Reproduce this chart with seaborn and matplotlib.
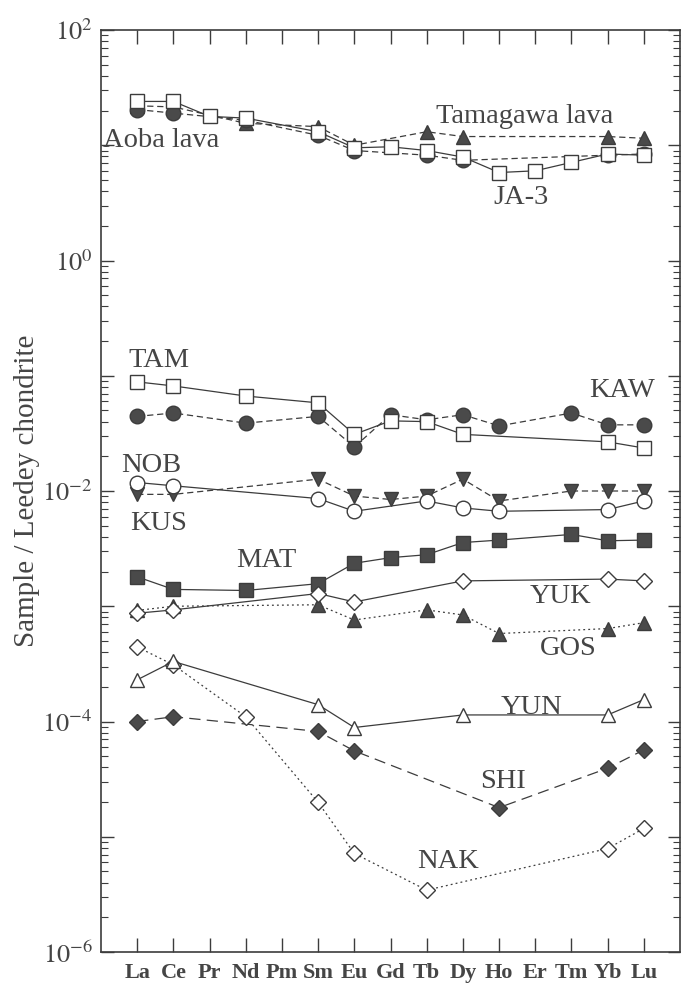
import numpy as np
import pandas as pd
import matplotlib
matplotlib.use("Agg")
import matplotlib.pyplot as plt
import matplotlib.ticker as mticker
import seaborn as sns

sns.set_style("ticks")
plt.rcParams["font.family"] = ["Liberation Serif", "DejaVu Serif"]
plt.rcParams["mathtext.fontset"] = "stix"

nan = np.nan
elements = ["La", "Ce", "Pr", "Nd", "Pm", "Sm", "Eu", "Gd", "Tb", "Dy", "Ho", "Er", "Tm", "Yb", "Lu"]

# chondrite-normalised values, one list per sample (nan = not measured)
tamagawa = [22.0, 21.5, nan, 15.5, nan, 14.5, 10.0, nan, 13.1, 11.9, nan, nan, nan, 11.9, 11.5]
aoba = [20.4, 19.0, nan, 16.5, nan, 12.2, 9.0, nan, 8.2, 7.4, nan, nan, nan, 8.2, 8.4]
ja3 = [24.0, 24.0, 17.8, 17.2, nan, 13.1, 9.5, 9.7, 9.0, 7.9, 5.8, 6.0, 7.1, 8.4, 8.2]
kaw = [0.0444, 0.0475, nan, 0.0388, nan, 0.0444, 0.0241, 0.0459, 0.0415, 0.0459, 0.0367, nan, 0.0475, 0.0375, 0.0375]
tam = [0.0885, 0.0816, nan, 0.0667, nan, 0.0582, 0.031, 0.0406, 0.040, 0.031, nan, nan, nan, 0.0267, 0.0236]
kus = [0.00935, 0.00935, nan, nan, nan, 0.01267, 0.00904, 0.00844, 0.00904, 0.01267, 0.0082, nan, 0.010, 0.010, 0.010]
nob = [0.01185, 0.0111, nan, nan, nan, 0.0086, 0.00667, nan, 0.0082, 0.00713, 0.00667, nan, nan, 0.0069, 0.0082]
mat = [0.0018, 0.0014, nan, 0.00137, nan, 0.00157, 0.00236, 0.00264, 0.0028, 0.00357, 0.00375, nan, 0.0042, 0.0037, 0.00375]
gos = [0.00092, 0.0010, nan, nan, nan, 0.00103, 0.00076, nan, 0.00093, 0.00084, 0.00058, nan, nan, 0.00064, 0.00072]
yuk = [0.00087, 0.00093, nan, nan, nan, 0.00129, 0.00109, nan, nan, 0.00166, nan, nan, nan, 0.00172, 0.00166]
shi = [1.0e-4, 1.1e-4, nan, nan, nan, 8.2e-5, 5.56e-5, nan, nan, nan, 1.79e-5, nan, nan, 3.93e-5, 5.67e-5]
nak = [4.44e-4, 3.1e-4, nan, 1.1e-4, nan, 1.99e-5, 7.16e-6, nan, 3.44e-6, nan, nan, nan, nan, 7.9e-6, 1.18e-5]
yun = [2.3e-4, 3.32e-4, nan, nan, nan, 1.4e-4, 8.87e-5, nan, nan, 1.14e-4, nan, nan, nan, 1.14e-4, 1.55e-4]

dark = "#3c3c3c"
fill = "#4a4a4a"
txt = "#454545"

# name, values, marker, filled, linestyle
series = [
    ("Tamagawa lava", tamagawa, "^", True, (0, (5, 3))),
    ("Aoba lava", aoba, "o", True, (0, (5, 3))),
    ("JA-3", ja3, "s", False, "-"),
    ("KAW", kaw, "o", True, (0, (5, 3))),
    ("TAM", tam, "s", False, "-"),
    ("KUS", kus, "v", True, (0, (5, 3))),
    ("NOB", nob, "o", False, "-"),
    ("MAT", mat, "s", True, "-"),
    ("GOS", gos, "^", True, (0, (1.5, 2.5))),
    ("YUK", yuk, "D", False, "-"),
    ("SHI", shi, "D", True, (0, (9, 5))),
    ("NAK", nak, "D", False, (0, (1.5, 2.5))),
    ("YUN", yun, "^", False, "-"),
]

fig = plt.figure(figsize=(6.85, 9.89), dpi=100)
ax = fig.add_axes([101 / 685, 1 - 952 / 989, 579 / 685, 922 / 989])
ax.set_yscale("log")

for name, vals, mk, filled, ls in series:
    df = pd.DataFrame({"pos": np.arange(len(elements)), "value": vals}).dropna()
    ms = 8.5 if mk == "D" else 10.5
    sns.lineplot(data=df, x="pos", y="value", ax=ax, errorbar=None, sort=True,
                 color=dark, linewidth=0.9, linestyle=ls, marker=mk, markersize=ms,
                 markerfacecolor=fill if filled else "white",
                 markeredgecolor=dark, markeredgewidth=1.0)

labels = [
    ("Aoba lava", -0.95, 11.0, "left"),
    ("Tamagawa lava", 10.7, 17.8, "center"),
    ("JA-3", 10.6, 3.5, "center"),
    ("TAM", 0.6, 0.135, "center"),
    ("KAW", 13.4, 0.074, "center"),
    ("NOB", 0.4, 0.0166, "center"),
    ("KUS", 0.6, 0.0052, "center"),
    ("MAT", 3.56, 0.0025, "center"),
    ("YUK", 11.7, 0.00122, "center"),
    ("GOS", 11.9, 0.000428, "center"),
    ("YUN", 10.9, 0.000131, "center"),
    ("SHI", 10.1, 3.0e-5, "center"),
    ("NAK", 8.6, 6.07e-6, "center"),
]
for s, x, y, ha in labels:
    ax.text(x, y, s, ha=ha, va="center", fontsize=20.5, color=txt)

ax.set_xlim(-1, 15)
ax.set_ylim(1e-6, 1e2)
ax.set_xticks(np.arange(len(elements)))
ax.set_xticklabels(elements, fontweight="bold", fontsize=16, color=txt)

ax.yaxis.set_major_locator(mticker.LogLocator(base=10, numticks=20))
ax.yaxis.set_minor_locator(mticker.LogLocator(base=10, subs=np.arange(2, 10), numticks=20))
ax.yaxis.set_minor_formatter(mticker.NullFormatter())


def fmt(v, pos):
    e = int(round(np.log10(v)))
    return f"$10^{{{e}}}$" if e % 2 == 0 else ""


ax.yaxis.set_major_formatter(mticker.FuncFormatter(fmt))
ax.tick_params(axis="y", which="major", direction="in", length=9, width=1.0,
               right=True, labelsize=19, pad=6, colors=dark, labelcolor=txt)
ax.tick_params(axis="y", which="minor", direction="in", length=5, width=0.8,
               right=True, colors=dark)
ax.tick_params(axis="x", which="major", direction="in", length=10, width=1.0,
               top=True, pad=8, colors=dark, labelcolor=txt)
ax.tick_params(axis="x", which="minor", bottom=False, top=False)

for sp in ax.spines.values():
    sp.set_visible(True)
    sp.set_linewidth(1.2)
    sp.set_color(dark)

ax.set_xlabel("")
ax.set_ylabel("Sample / Leedey chondrite", fontsize=21, color=txt)
ax.yaxis.set_label_coords(-0.105, 0.5)

fig.savefig("out.png", dpi=100, facecolor="white")
